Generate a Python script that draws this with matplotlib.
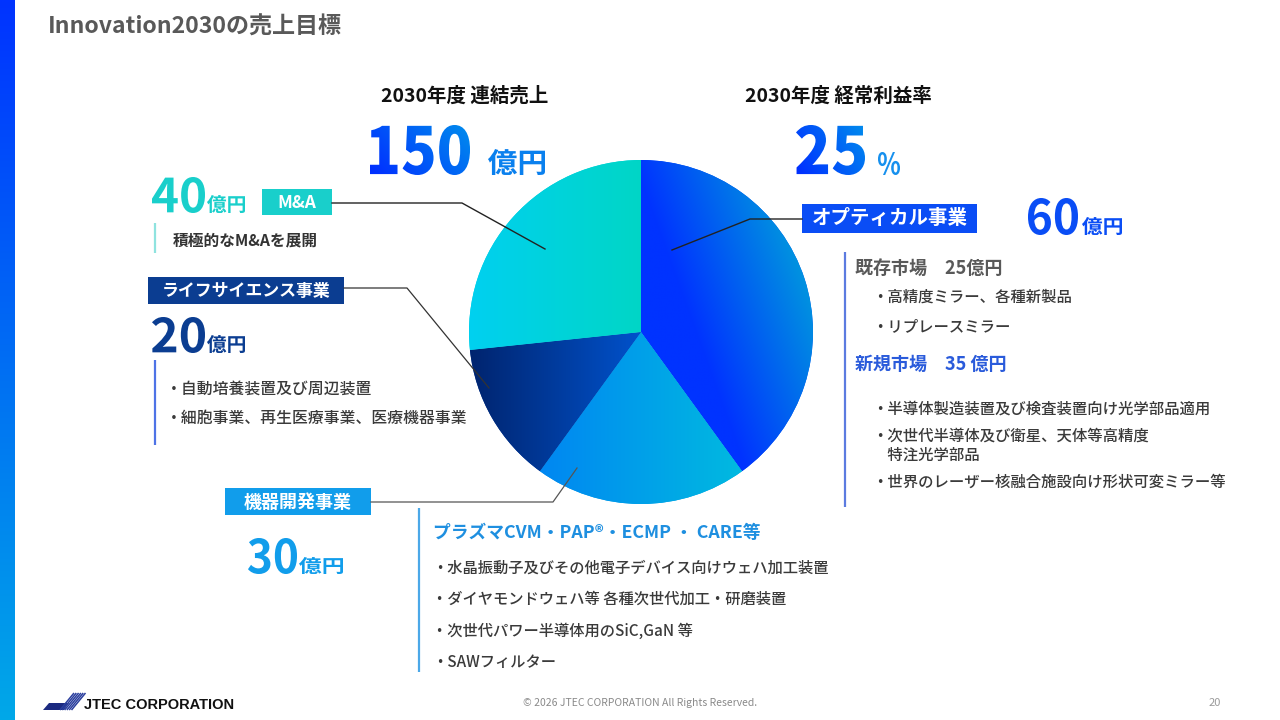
import numpy as np
import matplotlib
matplotlib.use('Agg')
import matplotlib.pyplot as plt
from matplotlib.patches import Rectangle, PathPatch, Polygon
from matplotlib.textpath import TextPath
from matplotlib.font_manager import FontProperties
from matplotlib.transforms import Affine2D
from matplotlib.colors import to_rgb

# ---------------- data ----------------
title = 'Innovation2030の売上目標'
segments = ['オプティカル事業', '機器開発事業', 'ライフサイエンス事業', 'M&A']
sales = [60, 30, 20, 40]          # 億円
total_sales = 150                 # 億円
profit_rate = 25                  # %
optical_existing = 25
optical_new = 35
ma_items = ['積極的なM&Aを展開']
life_items = ['自動培養装置及び周辺装置', '細胞事業、再生医療事業、医療機器事業']
optical_existing_items = ['高精度ミラー、各種新製品', 'リプレースミラー']
optical_new_items = ['半導体製造装置及び検査装置向け光学部品適用',
                     '次世代半導体及び衛星、天体等高精度\n特注光学部品',
                     '世界のレーザー核融合施設向け形状可変ミラー等']
device_head = 'プラズマCVM・PAP®・ECMP ・ CARE等'
device_items = ['水晶振動子及びその他電子デバイス向けウェハ加工装置',
                'ダイヤモンドウェハ等 各種次世代加工・研磨装置',
                '次世代パワー半導体用のSiC,GaN 等',
                'SAWフィルター']

# ---------------- setup ----------------
W, H = 1280, 720
JP = ['Noto Sans CJK JP', 'DejaVu Sans']
plt.rcParams['font.family'] = JP
fig = plt.figure(figsize=(12.8, 7.2), dpi=100)
fig.patch.set_facecolor('white')

def Y(y):
    return H - y

def grad_img(c0, c1, t):
    c0 = np.array(to_rgb(c0)); c1 = np.array(to_rgb(c1))
    t = np.clip(t, 0, 1)[..., None]
    return c0 * (1 - t) + c1 * t

# base axes (background)
axb = fig.add_axes([0, 0, 1, 1])
axb.set_xlim(0, W); axb.set_ylim(0, H); axb.axis('off')
tt = np.linspace(0, 1, 200)[:, None] * np.ones((200, 4))
axb.imshow(grad_img('#00A8E8', '#0033FF', tt), extent=(0, 15, 0, H), origin='lower',
           aspect='auto', interpolation='bilinear')
axb.set_xlim(0, W); axb.set_ylim(0, H)

# ---------------- pie ----------------
cx, cy, R = 641, 332, 172
axp = fig.add_axes([(cx - R) / W, (H - cy - R) / H, 2 * R / W, 2 * R / H])
base_cols = ['#0050F8', '#00A0E8', '#003A9E', '#00D2DC']
wedges, _ = axp.pie(sales, startangle=90, counterclock=False, colors=base_cols,
                    radius=1, wedgeprops=dict(linewidth=0))
n = 400
xs = np.linspace(-1, 1, n)
GX, GY = np.meshgrid(xs, xs)
ang = np.deg2rad(20)
grads = [
    ('#0033FF', '#0092E0', (GX * np.cos(ang) + GY * np.sin(ang) - 0.3) / 0.7),
    ('#0086F2', '#00BAE0', (GX + 0.6) / 1.2),
    ('#00246E', '#0052CC', (GX + 1.0) / 1.0),
    ('#00D0F0', '#00D6C6', (GX + 1.0) / 1.0),
]
for w, (c0, c1, t) in zip(wedges, grads):
    im = axp.imshow(grad_img(c0, c1, t), extent=(-1, 1, -1, 1), origin='lower',
                    interpolation='bilinear', zorder=w.get_zorder() + 0.1)
    im.set_clip_path(w)
axp.set_xlim(-1, 1); axp.set_ylim(-1, 1); axp.set_aspect('equal'); axp.axis('off')

# ---------------- top axes ----------------
ax = fig.add_axes([0, 0, 1, 1])
ax.patch.set_alpha(0)
ax.set_xlim(0, W); ax.set_ylim(0, H); ax.axis('off')

def fitted(s, x0, x1, ytop, ybot, weight='bold', color=None, gcols=None, family='Noto Sans CJK JP'):
    fp = FontProperties(family=family, weight=weight)
    tp = TextPath((0, 0), s, size=100, prop=fp)
    e = tp.get_extents()
    sx = (x1 - x0) / e.width
    sy = (ybot - ytop) / e.height
    tr = Affine2D().translate(-e.x0, -e.y0).scale(sx, sy).translate(x0, Y(ybot))
    p = tr.transform_path(tp)
    patch = PathPatch(p, facecolor=color if color else 'none', edgecolor='none', lw=0)
    ax.add_patch(patch)
    if gcols is not None:
        gx = np.linspace(0, 1, 120)
        GX2, GY2 = np.meshgrid(gx, gx)
        t = 0.75 * GX2 + 0.35 * GY2 - 0.05
        im = ax.imshow(grad_img(gcols[0], gcols[1], t), extent=(x0, x1, Y(ybot), Y(ytop)),
                       origin='lower', aspect='auto', interpolation='bilinear', zorder=3)
        im.set_clip_path(patch)

def txt(x, y, s, size, color='#404040', weight='bold', ha='left', va='center', **kw):
    ax.text(x, Y(y), s, fontsize=size, color=color, fontweight=weight, ha=ha, va=va,
            family=JP, **kw)

def box(x0, x1, y0, y1, fc, label, size):
    ax.add_patch(Rectangle((x0, Y(y1)), x1 - x0, y1 - y0, facecolor=fc, edgecolor='none'))
    txt((x0 + x1) / 2, (y0 + y1) / 2 + 0.5, label, size, color='white', ha='center')

def vline(x, y0, y1, c):
    ax.plot([x, x], [Y(y0), Y(y1)], color=c, lw=1.6, solid_capstyle='butt')

def leader(pts, c='#222222', lw=1.0):
    ax.plot([p[0] for p in pts], [Y(p[1]) for p in pts], color=c, lw=lw)

BUL = '#3A3A3A'
BW = 'medium'

# title
txt(48, 27, title, 16.6, color='#595959')

# headline numbers
txt(465, 96, '2030年度 連結売上', 14, color='#111111', ha='center')
txt(838, 96, '2030年度 経常利益率', 14, color='#111111', ha='center')
fitted(str(total_sales), 370, 470, 125, 175, weight='heavy', gcols=('#0030FF', '#0088EE'))
fitted('億円', 488, 545, 149, 175, weight='bold', color='#0A80EE')
fitted(str(profit_rate), 796, 865, 125, 175, weight='heavy', gcols=('#0030FF', '#0088EE'))
fitted('%', 878, 900, 152, 175, weight='bold', color='#1690EE')

# ---- M&A ----
c_ma = '#19CFCB'
fitted(str(sales[3]), 152, 205, 177, 213, weight='bold', color=c_ma)
fitted('億円', 207, 245, 195, 213, weight='bold', color=c_ma)
box(262, 332, 189, 215, c_ma, segments[3], 12.5)
vline(155, 223, 253, '#8FE3DF')
txt(173, 240, ma_items[0], 11.3, color='#333333')
leader([(332, 203), (462, 203), (545, 249)])

# ---- Life science ----
c_life = '#0B3D91'
box(148, 344, 277, 304, c_life, segments[2], 12.2)
fitted(str(sales[2]), 152, 205, 317, 353, weight='bold', color=c_life)
fitted('億円', 207, 245, 335, 353, weight='bold', color=c_life)
vline(155, 360, 445, '#4E73E6')
for i, s in enumerate(life_items):
    txt(166, 389 + i * 29, '・' + s, 11.4, color=BUL, weight=BW)
leader([(344, 288), (407, 288), (489, 388)], c='#333333', lw=0.9)

# ---- Device ----
c_dev = '#119DEB'
box(225, 371, 488, 515, c_dev, segments[1], 13)
fitted(str(sales[1]), 248, 297, 538, 574, weight='bold', color=c_dev)
fitted('億円', 299, 343, 557, 574, weight='bold', color=c_dev)
vline(419, 508, 672, '#4BA8E8')
txt(433, 533, device_head, 12.8, color='#1E8FE0')
for i, s in enumerate(device_items):
    txt(432, 568 + i * 31.5, '・' + s, 11.0, color=BUL, weight=BW)
leader([(371, 502), (553, 502), (577, 468)], c='#555555', lw=0.9)

# ---- Optical ----
c_opt = '#0A4DF5'
box(802, 977, 204, 233, c_opt, segments[0], 14)
fitted(str(sales[0]), 1028, 1078, 198, 235, weight='bold', color=c_opt)
fitted('億円', 1082, 1122, 217, 235, weight='bold', color=c_opt)
vline(845, 252, 507, '#5C7BE0')
txt(855, 268, f'既存市場　{optical_existing}億円', 13, color='#595959')
for i, s in enumerate(optical_existing_items):
    txt(872, 297 + i * 30, '・' + s, 11.1, color=BUL, weight=BW)
txt(855, 364, f'新規市場　{optical_new} 億円', 13, color='#2A5BDB')
ys_new = [409, 445.5, 482]
for s, yy in zip(optical_new_items, ys_new):
    txt(872, yy, '・' + s.replace('\n', '\n　'), 11.1, color=BUL, weight=BW, linespacing=1.2)
leader([(802, 219), (750, 219), (672, 250)])

# ---------------- footer ----------------
navy = '#1B2A80'
ax.add_patch(Polygon([(43, Y(710)), (64, Y(710)), (69, Y(703)), (49, Y(703))],
                     closed=True, facecolor=navy, edgecolor='none'))
for k in range(6):
    x_b = 60 + k * 2.3
    ax.plot([x_b, x_b + 14], [Y(710), Y(693)], color='#2B3F9E', lw=1.1, solid_capstyle='butt')
ax.text(84, Y(705), 'JTEC CORPORATION', fontsize=10.5, fontweight='bold', color='#111111',
        family=['Liberation Sans', 'DejaVu Sans'], ha='left', va='center')
txt(640, 703, '© 2026 JTEC CORPORATION All Rights Reserved.', 7.5, color='#8A8A8A',
    weight='normal', ha='center')
txt(1215, 703, '20', 8, color='#9A9A9A', weight='normal', ha='center')

ax.set_xlim(0, W); ax.set_ylim(0, H)
fig.savefig('out.png', dpi=100)
